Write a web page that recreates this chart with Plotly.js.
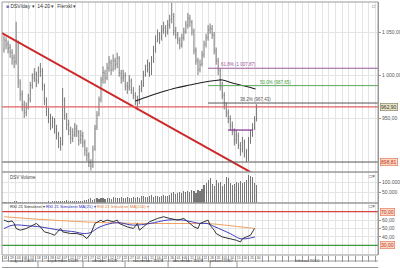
<!DOCTYPE html>
<html><head><meta charset="utf-8">
<script src="https://cdn.plot.ly/plotly-3.0.1.min.js"></script>
<style>html,body{margin:0;padding:0;background:#fff}#c{width:400px;height:268px}</style>
</head><body><div id="c"></div><script>
// ---- price data (daily OHLC, index = trading day) ----
const opens =[1030,1040,1036,1032,1026,1020,1016,1038,990,978,966,956,963,972,988,996,1001,994,1004,1004,987,970,958,951,941,946,937,931,921,920,970,952,943,935,926,931,937,933,925,929,921,912,906,898,895,915,940,955,972,995,1002,997,1008,1014,1007,1016,1013,1019,1002,997,999,987,986,993,982,976,970,970,984,989,1001,1007,1011,1004,1018,1030,1042,1046,1044,1053,1054,1051,1058,1065,1068,1051,1046,1040,1036,1044,1051,1058,1065,1061,1050,1028,1016,1007,1013,1024,1036,1044,1053,1054,1046,1028,1016,1005,987,976,964,956,949,941,935,925,929,918,914,921,909,904,923,931,939,949];
const highs =[1046,1044,1040,1036,1030,1024,1062,1040,995,982,970,968,978,992,1002,1008,1004,1010,1014,1008,990,974,962,955,952,950,942,934,928,985,974,956,948,940,938,944,942,936,936,934,925,916,910,902,918,942,958,975,998,1010,1006,1014,1022,1018,1024,1020,1026,1022,1006,1006,1003,992,1000,996,986,980,976,988,994,1005,1012,1018,1015,1022,1034,1046,1053,1050,1058,1062,1058,1064,1070,1084,1072,1056,1050,1044,1048,1055,1063,1072,1070,1064,1054,1032,1020,1018,1028,1040,1048,1058,1060,1058,1050,1032,1020,1008,992,980,968,960,953,946,938,936,933,922,928,925,914,928,936,944,952,966];
const lows  =[1026,1030,1025,1020,1012,1008,1012,985,970,958,950,952,960,968,984,992,986,990,998,982,965,952,944,936,938,932,925,915,912,918,948,936,930,920,922,928,928,918,920,916,906,900,893,889,892,912,936,952,968,990,990,994,1004,1000,1004,1006,1008,998,990,992,982,978,982,978,972,965,959,966,980,986,998,1003,998,1000,1014,1026,1038,1036,1040,1048,1044,1047,1054,1060,1046,1042,1036,1030,1032,1040,1048,1054,1056,1046,1024,1012,1000,1003,1010,1020,1032,1040,1048,1042,1024,1012,1000,982,972,960,951,944,936,930,918,920,914,906,910,904,899,900,920,928,936,946];
const closes=[1041,1035,1031,1027,1020,1015,1041,992,977,965,957,962,971,988,997,1000,994,1003,1006,988,971,959,950,942,945,938,930,922,919,971,953,942,936,927,930,938,934,924,930,922,913,907,899,894,913,938,953,971,994,1003,996,1008,1015,1006,1017,1012,1020,1003,996,1000,988,985,994,983,977,971,969,983,988,1000,1006,1012,1003,1017,1029,1041,1047,1043,1052,1055,1050,1058,1064,1070,1052,1047,1041,1035,1043,1050,1058,1066,1062,1052,1029,1017,1006,1012,1023,1035,1043,1052,1055,1047,1029,1017,1006,988,977,965,957,950,942,936,924,930,919,913,922,910,903,924,930,938,948,963];
// volume in shares
const volume=[4000,3000,5000,6000,4000,8000,12000,6000,5000,4000,5000,3000,4000,6000,5000,4000,3000,5000,4000,6000,5000,
 6000,8000,7000,9000,10000,8000,12000,9000,8000,10000,14000,11000,9000,8000,10000,12000,9000,11000,10000,13000,
 15000,18000,22000,16000,20000,24000,18000,22000,26000,20000,
 22000,25000,20000,28000,24000,22000,26000,30000,24000,22000,27000,25000,23000,28000,26000,
 30000,26000,32000,35000,28000,30000,34000,38000,30000,33000,36000,31000,35000,38000,34000,36000,40000,
 48000,52000,45000,50000,55000,48000,58000,52000,60000,55000,62000,58000,50000,65000,60000,
 70000,85000,95000,110000,120000,90000,80000,110000,95000,100000,80000,90000,125000,120000,95000,85000,90000,100000,95000,105000,95000,100000,110000,135000,130000,125000,95000,85000];
// moving average on price (sparse reading)
const maX=[65,72,78,85,92,98,104.5,108,113,118,122,124.5];
const maV=[969.8,975.6,980.2,984.9,988.4,991.3,993.6,994.2,990.7,987.8,985.5,983.7];
// drawn tools
const trendX=[-2,124];const trendY=[1050,884.5];
const levelRed=962.9, levelLow=898.81;
const fibStart=101, fibLevels=[1007.87,987.65,967.43];
const fibText=["61,8% (1 007,87)","50,0% (987,65)","38,2% (967,43)"];
const segX=[110.9,123.3], segY=936;
// RSI
const rsiX=[0,2,4,5,6,8,11,14,16,18,20,23,25,28,29,33,36,39,41,43,45,48,49,51,54,56,57,61,64,66,67,69,72,76,79,82,86,89,92,94,96,97,101,102,104,105,108,112,115,117,118,120,122,124];
const rsiV=[60,58,59,56,50,48,50,54,56,52,46,44,42,50,46,44,44,42,38,44,56,60,58,60,58,60,56,52,50,56,48,52,58,62,64,62,60,62,56,52,50,56,60,54,48,44,40,38,36,34,38,40,42,50];
const ma21X=[0,4.4,12.9,17.8,27.7,35.1,39.1,42.6,47.5,55.9,63.9,72.3,80.7,88.6,97,100.5,104.4,111.9,116.8,120.3,124.2];
const ma21V=[50,54,53,52,48,46,44,45,52,57,54,56,60,60,56,56,52,44,38,38,40];
const ma200X=[0,23.8,48.5,73.3,97,100.5,124.2];
const ma200V=[64,60,57,56,56,56,50];
// axis text
const priceTicks=[950,1000,1050], priceTickText=["950,00","1 000,00","1 050,00"];
const volTicks=[50000,100000], volTickText=["50.000","100.000"];
const rsiTicks=[40,50,60], rsiTickText=["40,00","50,00","60,00"];
const dayLabels=["24","29","03","08","13","18","23","28","02","07","12","17","22","27","02","07","12","17","22","27","01","06","11","16","21","26","01","06","11","16","21","26","31","05","10","15","20","25","30"];
const months=["august 2009","september 2009","oktober 2009","november 2009","december 2009","januar 2010","februar 2010"];
const monthCenters=[8.9,29.2,50,71.3,91.1,107.4,150];
const monthEdges=[16.8,39.1,59.9,81.2,102,115.3];

const N=closes.length, idx=closes.map((_,i)=>i);
const X0=-1, X1=185.1, cellW=3.3;
const edges=[],centers=[],ctext=[];
for(let k=0;X0+k*cellW<=X1;k++){edges.push(X0+k*cellW);centers.push(X0+(k+0.5)*cellW);ctext.push(dayLabels[k]||"");}
const PH=253, py=v=>v/PH; // paper units per pixel
const F="Liberation Sans, Arial, sans-serif";
const traces=[
 {type:'ohlc',x:idx,open:opens,high:highs,low:lows,close:closes,xaxis:'x',yaxis:'y',
  increasing:{line:{color:'#6a6a6a',width:0.9}},decreasing:{line:{color:'#6a6a6a',width:0.9}},tickwidth:0.25,hoverinfo:'skip'},
 {type:'scatter',mode:'lines',x:maX,y:maV,line:{color:'#222',width:1.2,shape:'spline'},xaxis:'x',yaxis:'y'},
 {type:'scatter',mode:'lines',x:trendX,y:trendY,line:{color:'#cc2a2a',width:2},xaxis:'x',yaxis:'y'},
 {type:'scatter',mode:'lines',x:[X0,X1],y:[levelRed,levelRed],line:{color:'#e06060',width:1.2},xaxis:'x',yaxis:'y'},
 {type:'scatter',mode:'lines',x:[X0,X1],y:[levelLow,levelLow],line:{color:'#555',width:1},xaxis:'x',yaxis:'y'},
 {type:'scatter',mode:'lines',x:[fibStart,X1],y:[fibLevels[0],fibLevels[0]],line:{color:'#9a5a9a',width:1},xaxis:'x',yaxis:'y'},
 {type:'scatter',mode:'lines',x:[fibStart,X1],y:[fibLevels[1],fibLevels[1]],line:{color:'#5aaa5a',width:1},xaxis:'x',yaxis:'y'},
 {type:'scatter',mode:'lines',x:[fibStart,X1],y:[fibLevels[2],fibLevels[2]],line:{color:'#555',width:1},xaxis:'x',yaxis:'y'},
 {type:'scatter',mode:'lines',x:segX,y:[segY,segY],line:{color:'#8a3a9a',width:1.3},xaxis:'x',yaxis:'y'},
 {type:'bar',x:idx,y:volume,marker:{color:'#777',line:{width:0}},width:0.55,xaxis:'x',yaxis:'y2'},
 {type:'scatter',mode:'lines',x:[X0,X1],y:[70,70],line:{color:'#d84040',width:1.3},xaxis:'x',yaxis:'y3'},
 {type:'scatter',mode:'lines',x:[X0,X1],y:[30,30],line:{color:'#3a9a3a',width:1.3},xaxis:'x',yaxis:'y3'},
 {type:'scatter',mode:'lines',x:ma200X,y:ma200V,line:{color:'#f0a060',width:1,shape:'spline'},xaxis:'x',yaxis:'y3'},
 {type:'scatter',mode:'lines',x:ma21X,y:ma21V,line:{color:'#4040c0',width:1,shape:'spline'},xaxis:'x',yaxis:'y3'},
 {type:'scatter',mode:'lines',x:rsiX,y:rsiV,line:{color:'#333',width:1},xaxis:'x',yaxis:'y3'}
];
const yax=(dom,rng,tv,tt)=>({domain:dom,range:rng,side:'right',tickvals:tv,ticktext:tt,ticks:'outside',ticklen:2,tickcolor:'#999',
 tickfont:{size:5,color:'#555',family:F},showgrid:true,gridcolor:'#e4e4e4',gridwidth:1,zeroline:false,showline:true,linecolor:'#999',fixedrange:true});
const ann=[];
const box=(y,yref,t,bg,bc,fc)=>ann.push({xref:'paper',x:1,xanchor:'left',xshift:2,yref:yref,y:y,text:t,showarrow:false,
 font:{size:5,color:fc,family:F},bgcolor:bg,bordercolor:bc,borderwidth:0.6,borderpad:0.5});
box(levelRed,'y','962,90','#e8e4c4','#7a7a5a','#333');
box(levelLow,'y','898,81','#fbd8c4','#e07050','#c03020');
box(70,'y3','70,00','#fbd8c4','#e07050','#c03020');
box(30,'y3','30,00','#fbd8c4','#e07050','#c03020');
const fibCols=['#a050a0','#40a040','#555'], fibAx=[106.4,125.7,115.8];
fibLevels.forEach((v,k)=>ann.push({xref:'x',x:fibAx[k],xanchor:'left',yref:'y',y:v,yanchor:'bottom',yshift:-1,text:fibText[k],
 showarrow:false,font:{size:4.5,color:fibCols[k],family:F}}));
const lbl=(x,y,t,c,sz)=>ann.push({xref:'paper',x:x,yref:'paper',y:y,xanchor:'left',yanchor:'middle',text:t,showarrow:false,font:{size:sz||5,color:c,family:F}});
lbl(0.005,1-py(4),'<span style="color:#7070c0">■</span> DSV/day ▾  14-20 ▾  Flerxkl ▾','#333',5);
lbl(0.015,0.328-py(5),'DSV Volume','#444',4.5);
lbl(0.015,0.2055-py(3),'RSI 21 Simuleret ▾ <span style="color:#3030c0">RSI 21 Simuleret MA(21) ▾</span> <span style="color:#e08040">RSI 21 Simuleret MA(200) ▾</span>','#333',4.2);
lbl(0.978,1-py(4),'□','#555',5);
lbl(0.972,0.328-py(4),'□×','#333',5);
lbl(0.972,0.2055-py(3),'□×','#333',5);
months.forEach((m,k)=>ann.push({xref:'x',x:monthCenters[k],yref:'paper',y:-py(9.5),text:m,showarrow:false,font:{size:4.3,color:'#444',family:F}}));
const shapes=[];
[[0.328,1],[0.2055,0.328],[0,0.2055]].forEach(d=>shapes.push({type:'rect',xref:'paper',yref:'paper',x0:0,x1:1,y0:d[0],y1:d[1],line:{color:'#999',width:1}}));
shapes.push({type:'line',xref:'paper',yref:'paper',x0:0,x1:1,y0:-py(6),y1:-py(6),line:{color:'#999',width:1}});
shapes.push({type:'line',xref:'paper',yref:'paper',x0:0,x1:1,y0:-py(12.5),y1:-py(12.5),line:{color:'#999',width:1}});
monthEdges.forEach(e=>shapes.push({type:'line',xref:'x',yref:'paper',x0:e,x1:e,y0:-py(6),y1:-py(12.5),line:{color:'#999',width:1}}));
const layout={width:400,height:268,margin:{l:2,r:22,t:2,b:13},paper_bgcolor:'#fff',plot_bgcolor:'#fff',showlegend:false,
 bargap:0,
 xaxis:{range:[X0,X1],anchor:'y3',tickmode:'array',tickvals:centers,ticktext:ctext,ticks:'',showgrid:false,zeroline:false,
  tickfont:{size:3.4,color:'#444',family:F},tickangle:0,fixedrange:true,rangeslider:{visible:false},
  minor:{tickmode:'array',tickvals:edges,ticks:'outside',ticklen:6,tickcolor:'#999',showgrid:true,gridcolor:'#e4e4e4',gridwidth:1}},
 yaxis:yax([0.328,1],[887.2,1084.9],priceTicks,priceTickText),
 yaxis2:yax([0.2055,0.328],[0,150000],volTicks,volTickText),
 yaxis3:yax([0,0.2055],[18.45,80.36],rsiTicks,rsiTickText),
 annotations:ann,shapes:shapes};
Plotly.newPlot('c',traces,layout,{staticPlot:true,displayModeBar:false});
</script></body></html>
